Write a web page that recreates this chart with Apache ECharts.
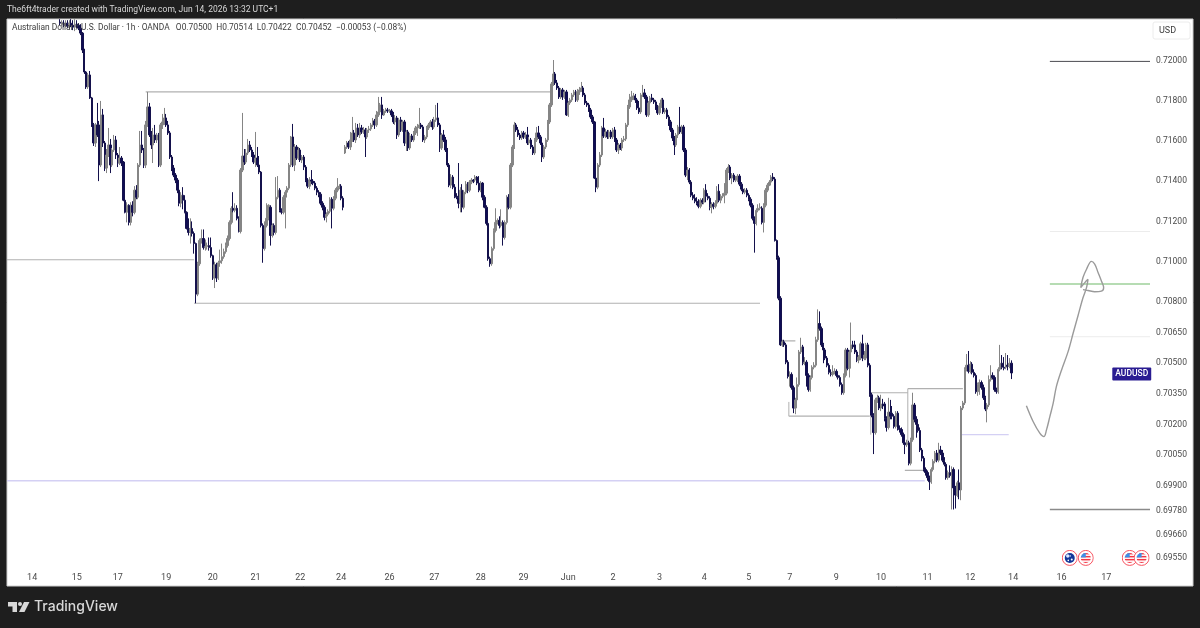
<!DOCTYPE html>
<html>
<head>
<meta charset="utf-8">
<title>AUDUSD 1h</title>
<style>html,body{margin:0;padding:0;background:#1e1e1e}#c{width:1200px;height:628px}</style>
<script src="https://cdn.jsdelivr.net/npm/echarts@6/dist/echarts.min.js"></script>
</head>
<body>
<div id="c"></div>
<script>
// Hourly AUD/USD candles, one list per session, rows are [open, close, low, high] in 0.00001 units.
const barsMay14 = [[72195,72190,72180,72210],[72185,72195,72175,72205],[72190,72180,72170,72205],[72180,72190,72170,72205],[72190,72175,72165,72205],[72175,72190,72160,72205],[72190,72180,72170,72210],[72180,72170,72155,72205],[72170,72185,72150,72210],[72185,72180,72165,72205]];
const barsMay15 = [[72180,72165,72155,72190],[72165,72140,72130,72185],[72140,72055,72040,72145],[72060,71945,71935,72060],[71945,71870,71860,71950],[71870,71930,71860,71940],[71930,71815,71810,71950],[71815,71680,71670,71820],[71680,71590,71575,71690],[71590,71680,71570,71690],[71680,71630,71620,71790],[71680,71480,71400,71700],[71480,71730,71470,71800],[71730,71590,71570,71760],[71590,71465,71450,71600],[71465,71530,71440,71560],[71530,71580,71520,71665],[71580,71480,71440,71610],[71480,71555,71470,71565],[71555,71605,71545,71630],[71605,71530,71510,71625],[71530,71490,71470,71540],[71490,71515,71480,71570]];
const barsMay18 = [[71515,71490,71475,71525],[71495,71305,71300,71500],[71305,71245,71240,71310],[71245,71280,71195,71295],[71280,71195,71180,71285],[71195,71280,71180,71295],[71280,71245,71225,71300],[71245,71355,71235,71375],[71355,71320,71310,71380],[71320,71480,71310,71490],[71480,71580,71470,71650],[71580,71555,71540,71650],[71555,71480,71465,71565],[71480,71680,71465,71700],[71680,71770,71670,71845],[71770,71630,71620,71790],[71630,71580,71560,71650],[71580,71630,71490,71665],[71630,71605,71590,71680],[71605,71630,71590,71640],[71630,71480,71470,71640],[71480,71680,71470,71690],[71680,71695,71660,71735],[71695,71715,71680,71765],[71715,71680,71670,71735],[71680,71640,71630,71700]];
const barsMay19 = [[71640,71520,71510,71650],[71520,71465,71450,71530],[71465,71430,71420,71480],[71430,71405,71390,71440],[71405,71355,71340,71415],[71355,71290,71275,71365],[71290,71330,71270,71345],[71330,71305,71260,71370],[71305,71245,71240,71330],[71245,71165,71160,71250],[71165,71145,71130,71215],[71145,71165,71090,71215],[71165,71140,71125,71200],[71140,71090,71040,71150],[71090,70840,70795,71095],[70840,70990,70830,71000],[70990,71105,70980,71115],[71105,71115,71090,71160],[71115,71070,71060,71160],[71070,71075,71055,71110],[71075,71080,71060,71095],[71080,71070,71055,71120],[71070,71030,71020,71120],[71030,70920,70910,71035]];
const barsMay20 = [[70920,70985,70870,71000],[70985,70920,70900,70995],[70920,70995,70910,71005],[70995,71005,70975,71060],[71005,71025,70990,71090],[71025,71050,71015,71065],[71050,71080,71040,71095],[71080,71115,71070,71130],[71115,71195,71105,71205],[71195,71265,71185,71275],[71265,71255,71245,71345],[71255,71265,71245,71290],[71265,71215,71205,71280],[71215,71150,71145,71225],[71150,71455,71140,71465],[71455,71525,71445,71740],[71525,71495,71480,71560],[71495,71540,71485,71560],[71540,71580,71530,71610],[71580,71555,71545,71600],[71555,71530,71520,71570],[71530,71495,71485,71545],[71495,71515,71470,71645],[71515,71480,71470,71570]];
const barsMay21 = [[71480,71445,71435,71525],[71445,71180,71170,71450],[71180,71065,70995,71190],[71065,71180,71055,71200],[71180,71215,71170,71290],[71215,71280,71205,71285],[71270,71130,71080,71280],[71130,71180,71120,71190],[71180,71145,71130,71190],[71145,71320,71135,71420],[71320,71355,71310,71425],[71355,71255,71245,71365],[71255,71245,71235,71265],[71245,71320,71235,71330],[71320,71345,71165,71355],[71345,71365,71335,71375],[71365,71480,71355,71490],[71480,71620,71470,71625],[71620,71480,71470,71685],[71480,71570,71450,71585],[71570,71515,71505,71580],[71515,71555,71505,71570],[71555,71505,71495,71565],[71505,71520,71490,71530]];
const barsMay22 = [[71520,71470,71455,71530],[71470,71405,71395,71480],[71405,71375,71365,71415],[71375,71405,71360,71420],[71405,71400,71385,71455],[71400,71390,71380,71410],[71390,71365,71355,71400],[71365,71345,71330,71375],[71345,71335,71320,71355],[71335,71290,71280,71345],[71290,71270,71255,71300],[71270,71220,71205,71280],[71220,71235,71195,71245],[71235,71250,71225,71260],[71250,71310,71240,71320],[71310,71265,71165,71320],[71265,71315,71255,71325],[71315,71355,71305,71365],[71355,71370,71345,71415],[71370,71375,71360,71385],[71375,71315,71305,71385],[71315,71270,71255,71325]];
const barsMay25 = [[71540,71570,71535,71580],[71570,71590,71560,71600],[71590,71570,71560,71600],[71570,71605,71555,71645],[71605,71640,71595,71720],[71640,71605,71595,71655],[71605,71665,71590,71690],[71665,71630,71620,71685],[71630,71665,71615,71690],[71665,71645,71635,71680],[71645,71655,71635,71670],[71655,71620,71520,71665],[71620,71655,71610,71665],[71655,71660,71640,71675],[71660,71680,71650,71690],[71680,71700,71670,71715],[71700,71680,71660,71710],[71680,71730,71670,71750],[71730,71745,71720,71820],[71745,71780,71735,71790],[71780,71730,71710,71820],[71730,71750,71725,71760],[71750,71755,71740,71765],[71755,71750,71740,71765],[71750,71752,71740,71760],[71750,71730,71720,71760]];
const barsMay26 = [[71730,71695,71685,71745],[71695,71715,71680,71730],[71715,71630,71610,71725],[71630,71705,71620,71715],[71705,71655,71645,71720],[71655,71695,71645,71705],[71695,71590,71575,71705],[71590,71645,71550,71655],[71645,71565,71550,71655],[71565,71625,71555,71640],[71625,71605,71595,71635],[71605,71640,71595,71650],[71640,71665,71630,71675],[71665,71670,71625,71685],[71670,71680,71660,71765],[71680,71670,71660,71690],[71670,71605,71595,71680],[71605,71620,71590,71630],[71620,71665,71610,71675],[71665,71680,71655,71690],[71680,71695,71670,71705],[71695,71670,71655,71710],[71670,71705,71660,71720],[71705,71715,71695,71780]];
const barsMay27 = [[71715,71680,71670,71790],[71680,71565,71545,71690],[71565,71630,71555,71640],[71630,71605,71595,71655],[71605,71555,71545,71620],[71555,71480,71470,71565],[71480,71380,71370,71490],[71380,71420,71365,71435],[71420,71370,71360,71430],[71370,71325,71315,71385],[71325,71320,71310,71340],[71320,71290,71265,71490],[71290,71355,71245,71370],[71355,71270,71245,71385],[71270,71345,71260,71355],[71345,71385,71335,71400],[71385,71355,71340,71395],[71355,71395,71345,71405],[71395,71405,71385,71415],[71405,71400,71390,71410],[71405,71420,71395,71430],[71420,71390,71380,71425],[71390,71355,71345,71425]];
const barsMay28 = [[71355,71390,71345,71400],[71390,71320,71305,71395],[71320,71270,71265,71330],[71270,71190,71180,71280],[71190,71015,71005,71195],[71015,70990,70975,71025],[70990,71065,70980,71075],[71065,71155,71055,71165],[71155,71195,71145,71265],[71195,71205,71185,71215],[71205,71180,71165,71225],[71180,71195,71170,71260],[71195,71120,71080,71205],[71120,71195,71110,71205],[71195,71320,71185,71330],[71320,71270,71260,71335],[71270,71480,71260,71490],[71480,71570,71470,71580],[71570,71680,71560,71695],[71680,71655,71645,71690],[71655,71630,71620,71670],[71630,71615,71605,71640],[71615,71640,71605,71650],[71640,71620,71610,71650]];
const barsMay29 = [[71620,71630,71610,71645],[71630,71590,71580,71670],[71590,71605,71580,71620],[71605,71570,71560,71615],[71570,71540,71530,71580],[71540,71605,71530,71615],[71605,71640,71595,71670],[71640,71620,71610,71675],[71620,71590,71580,71630],[71590,71520,71495,71600],[71520,71570,71510,71580],[71570,71605,71560,71615],[71605,71695,71595,71705],[71695,71780,71685,71790],[71780,71885,71770,71895],[71885,71935,71875,72005],[71935,71890,71880,71945],[71890,71865,71855,71905],[71865,71820,71810,71875],[71820,71855,71810,71865],[71855,71820,71805,71865],[71820,71845,71810,71855],[71845,71730,71725,71855],[71730,71790,71720,71800]];
const barsJun1 = [[71790,71805,71780,71815],[71805,71830,71795,71840],[71830,71845,71820,71855],[71845,71805,71795,71855],[71805,71845,71795,71860],[71845,71855,71830,71870],[71855,71865,71845,71895],[71865,71830,71820,71875],[71830,71790,71780,71840],[71790,71780,71770,71800],[71780,71755,71745,71790],[71755,71720,71710,71765],[71720,71695,71685,71730],[71695,71415,71410,71700],[71415,71370,71345,71425],[71370,71480,71360,71490],[71480,71530,71470,71545],[71530,71665,71520,71675],[71665,71625,71615,71715],[71625,71645,71615,71660],[71645,71620,71610,71655],[71620,71645,71610,71655],[71645,71620,71610,71655],[71620,71655,71610,71665]];
const barsJun2 = [[71655,71605,71595,71670],[71605,71555,71545,71615],[71555,71580,71535,71590],[71580,71565,71555,71590],[71565,71605,71550,71615],[71605,71610,71595,71625],[71610,71680,71600,71690],[71680,71770,71670,71780],[71770,71805,71760,71835],[71805,71820,71795,71850],[71820,71825,71805,71840],[71825,71805,71790,71835],[71805,71765,71755,71815],[71765,71745,71735,71800],[71745,71830,71735,71840],[71830,71840,71820,71880],[71840,71820,71810,71860],[71820,71730,71720,71830],[71730,71790,71720,71800],[71790,71815,71780,71825],[71815,71805,71795,71835],[71805,71795,71785,71815],[71795,71770,71755,71805],[71770,71740,71730,71780],[71740,71775,71730,71790]];
const barsJun3 = [[71775,71805,71765,71815],[71805,71745,71735,71815],[71745,71755,71735,71765],[71755,71720,71710,71765],[71720,71695,71675,71730],[71695,71655,71645,71705],[71655,71615,71600,71665],[71615,71580,71530,71625],[71580,71630,71570,71640],[71630,71670,71615,71680],[71670,71645,71635,71770],[71645,71670,71635,71680],[71670,71555,71545,71680],[71555,71430,71420,71565],[71430,71455,71405,71470],[71455,71395,71385,71465],[71395,71330,71320,71405],[71330,71315,71305,71345],[71315,71300,71290,71335],[71300,71290,71280,71320],[71290,71275,71265,71310],[71275,71305,71265,71315],[71305,71295,71285,71315],[71295,71355,71285,71365],[71355,71325,71295,71385],[71325,71315,71305,71340]];
const barsJun4 = [[71315,71270,71255,71325],[71270,71285,71240,71295],[71285,71275,71260,71295],[71275,71290,71265,71305],[71290,71350,71280,71375],[71350,71305,71295,71385],[71305,71325,71290,71335],[71325,71330,71315,71340],[71330,71340,71290,71390],[71340,71455,71330,71465],[71455,71470,71440,71485],[71470,71415,71405,71480],[71415,71430,71385,71440],[71430,71405,71395,71440],[71405,71410,71395,71425],[71405,71425,71395,71435],[71425,71385,71375,71435],[71385,71360,71350,71395],[71360,71345,71335,71370],[71345,71355,71335,71365],[71355,71330,71320,71365],[71330,71310,71300,71340],[71310,71280,71270,71320]];
const barsJun5 = [[71280,71215,71205,71290],[71215,71190,71045,71225],[71190,71255,71180,71265],[71255,71265,71245,71285],[71265,71270,71255,71290],[71265,71195,71185,71275],[71195,71280,71145,71290],[71280,71355,71270,71365],[71355,71380,71345,71390],[71380,71395,71375,71405],[71395,71420,71385,71430],[71420,71410,71400,71440],[71410,71105,71100,71420],[71105,71020,71010,71110],[71020,70820,70810,71030],[70820,70590,70585,70830],[70590,70605,70580,70615],[70605,70590,70580,70615],[70590,70505,70495,70600],[70505,70435,70425,70515],[70435,70445,70385,70460],[70445,70380,70370,70455]];
const barsJun8 = [[70380,70280,70255,70390],[70280,70320,70250,70330],[70320,70395,70310,70430],[70395,70555,70385,70565],[70555,70580,70545,70625],[70580,70500,70490,70590],[70500,70505,70490,70530],[70505,70440,70385,70515],[70440,70370,70360,70450],[70370,70430,70360,70440],[70430,70480,70420,70490],[70480,70490,70470,70505],[70490,70615,70480,70630],[70615,70695,70605,70765],[70695,70670,70660,70755],[70670,70590,70580,70680],[70590,70565,70500,70600],[70565,70525,70515,70575],[70525,70490,70480,70535],[70490,70455,70445,70500],[70455,70445,70435,70470],[70445,70455,70435,70490],[70455,70460,70445,70475],[70460,70440,70430,70470],[70440,70430,70420,70450],[70430,70395,70385,70440]];
const barsJun9 = [[70395,70355,70345,70405],[70355,70440,70345,70450],[70440,70565,70430,70575],[70565,70475,70465,70575],[70475,70555,70430,70565],[70555,70590,70545,70700],[70590,70580,70570,70610],[70590,70555,70545,70610],[70555,70515,70505,70565],[70515,70530,70500,70540],[70530,70595,70515,70605],[70595,70525,70510,70640],[70525,70540,70515,70560],[70525,70590,70515,70600],[70590,70490,70480,70600],[70490,70345,70335,70500],[70345,70245,70235,70355],[70245,70160,70055,70255],[70160,70320,70150,70330],[70320,70330,70305,70345],[70330,70280,70270,70340],[70280,70300,70265,70345],[70300,70290,70275,70325],[70300,70230,70215,70310],[70230,70185,70165,70240],[70185,70260,70175,70330],[70260,70240,70225,70320]];
const barsJun10 = [[70255,70240,70225,70290],[70240,70190,70180,70250],[70190,70255,70180,70265],[70255,70180,70170,70265],[70180,70175,70160,70195],[70175,70150,70140,70185],[70150,70110,70100,70160],[70110,70100,70055,70120],[70100,70110,70090,70125],[70110,70010,70000,70120],[70010,70125,70000,70135],[70125,70295,70115,70355],[70295,70225,70210,70305],[70225,70200,70135,70240],[70200,70170,70160,70215],[70170,70075,70065,70185],[70075,70035,70020,70085],[70035,69980,69970,70045],[69980,69965,69950,69990],[69965,69940,69925,69975],[69940,69920,69880,69950]];
const barsJun11 = [[69920,69980,69910,69990],[69980,70020,69970,70030],[70020,70060,70010,70070],[70060,70025,70015,70075],[70025,70075,70015,70110],[70075,70060,70050,70095],[70060,70025,70015,70075],[70025,70005,69995,70040],[70005,69940,69930,70015],[69940,69965,69930,69975],[69965,69950,69940,70000],[69950,69980,69785,69995],[69980,69890,69785,69990],[69890,69855,69790,69900],[69855,69915,69845,69925],[69915,69880,69835,69980],[69880,70280,69830,70290],[70280,70305,70270,70315],[70305,70470,70295,70480],[70470,70490,70460,70545],[70490,70460,70450,70560],[70460,70495,70450,70510]];
const barsJun12 = [[70495,70455,70445,70505],[70455,70440,70430,70470],[70440,70360,70350,70450],[70360,70395,70340,70405],[70395,70405,70345,70420],[70405,70380,70370,70415],[70380,70330,70320,70395],[70330,70275,70265,70340],[70275,70295,70210,70305],[70295,70420,70285,70440],[70420,70440,70410,70490],[70440,70430,70420,70455],[70430,70370,70360,70440],[70370,70360,70350,70380],[70360,70470,70350,70480],[70470,70500,70460,70590],[70500,70480,70470,70540],[70480,70475,70465,70530],[70480,70490,70470,70550],[70490,70485,70465,70540],[70485,70500,70475,70525],[70500,70452,70422,70514]];
const sessions = [barsMay14, barsMay15, barsMay18, barsMay19, barsMay20, barsMay21, barsMay22, barsMay25, barsMay26, barsMay27, barsMay28, barsMay29, barsJun1, barsJun2, barsJun3, barsJun4, barsJun5, barsJun8, barsJun9, barsJun10, barsJun11, barsJun12];

// Time scale: hour slots on screen and the day labels placed on them.
const hourSlots = 614;
const firstBarHour = 28;
const dayLabels = ['14','15','17','19','20','21','22','24','26','27','28','29','Jun','2','3','4','5','7','9','10','11','12','14','16','17'];
const dayLabelHours = [13,37,59,85,110,133,157,179,205,229,254,277,301,325,350,374,398,420,445,469,494,517,540,566,590];

// Price scale ticks.
const priceTicks = [0.72,0.718,0.716,0.714,0.712,0.71,0.708,0.7065,0.705,0.7035,0.702,0.7005,0.699,0.6978,0.6966,0.6955];
const priceMin = 0.69506, priceMax = 0.72211;

// Levels drawn on the chart, [fromHour, toHour, price in 0.00001 units].
const greyLevels = [[74,292,71845],[-0.5,100,71010],[100,404,70795],[415,423,70610],[419.5,463,70240],[463.5,483.4,70355],[483.4,513,70375],[481.8,492.5,69975]];
const lavenderLevels = [[-0.5,492.5,69925],[511.8,537.6,70150]];
const targetDark = [[559.7,613.5,71998]];
const targetFaint = [[559.7,613.5,71150],[559.7,613.5,70630]];
const targetGreen = [[559.7,613.5,70890]];
const targetGrey = [[559.7,613.5,69785]];
// Short vertical box edges, [hour, fromPrice, toPrice].
const boxEdges = [[419.5,70240,70310],[463.5,70355,70150],[483.4,70375,70100]];

// Freehand projected path, [hour, price in 0.00001 units].
const projection = [[547.1,70291],[550.7,70214],[554.3,70157],[556.5,70140],[557.9,70173],[559.7,70238],[561.5,70304],[563.2,70385],[566,70467],[569.5,70557],[572.2,70647],[574.9,70736],[577.5,70822],[579.4,70872],[580.2,70913],[578.5,70897],[576.3,70872],[577.5,70922],[579.4,70963],[582,71002],[583.8,70988],[585.6,70947],[587.4,70905],[588.6,70872],[587.4,70855],[583.8,70852],[580.2,70858],[577.5,70862]];

// Upcoming economic events along the bottom, [hour, flag].
const eventHours = [[570.4,'au'],[579,'us'],[602.6,'us'],[609,'us']];
const eventPrice = 0.6955;

const instrumentTagHour = 603.7;
const headerText = 'The6ft4trader created with TradingView.com, Jun 14, 2026 13:32 UTC+1';
const legendText = 'Australian Dollar / U.S. Dollar · 1h · OANDA   O0.70500  H0.70514  L0.70422  C0.70452  −0.00053 (−0.08%)';

const PRICE_UNIT = 1e5;
const FONT = 'Roboto, "Open Sans", sans-serif';

const candleData = Array(firstBarHour).fill('-').concat(
  sessions.flat().map(r => r.map(v => v / PRICE_UNIT))
);
const lastClose = sessions.at(-1).at(-1)[1] / PRICE_UNIT;

function flagIcon(kind) {
  const inner = kind === 'us'
    ? '<clipPath id="k"><circle cx="16" cy="16" r="10"/></clipPath><g clip-path="url(#k)"><rect width="32" height="32" fill="#fff"/><rect y="6" width="32" height="3" fill="#f23645"/><rect y="12" width="32" height="3" fill="#f23645"/><rect y="18" width="32" height="3" fill="#f23645"/><rect y="24" width="32" height="3" fill="#f23645"/><rect width="16" height="15" fill="#3d8fe8"/></g>'
    : '<circle cx="16" cy="16" r="10" fill="#14379a"/><circle cx="12" cy="12" r="3.5" fill="#dfe7ff"/><circle cx="20" cy="19" r="2" fill="#fff"/><circle cx="17" cy="12" r="1.3" fill="#fff"/><circle cx="13" cy="21" r="1.6" fill="#fff"/>';
  const svg = '<svg xmlns="http://www.w3.org/2000/svg" width="32" height="32" viewBox="0 0 32 32"><circle cx="16" cy="16" r="15" fill="#fff" stroke="#f7525f" stroke-width="2"/>' + inner + '</svg>';
  return 'image://data:image/svg+xml;charset=utf-8,' + encodeURIComponent(svg);
}

function levelSeries(rows, color, width) {
  return rows.map(([a, b, p]) => ({
    type: 'line', xAxisIndex: 1, yAxisIndex: 0, silent: true, symbol: 'none', z: 1,
    lineStyle: { color, width },
    data: [[a, p / PRICE_UNIT], [b, p / PRICE_UNIT]]
  }));
}

const series = [
  ...levelSeries(greyLevels, '#b0b0b0', 1.2),
  ...levelSeries(lavenderLevels, '#d4d0f4', 1.4),
  ...levelSeries(targetDark, '#4a4a50', 1),
  ...levelSeries(targetFaint, '#ececec', 1),
  ...levelSeries(targetGreen, '#9ed09a', 1.3),
  ...levelSeries(targetGrey, '#8a8a8a', 1.5),
  ...boxEdges.map(([h, a, b]) => ({
    type: 'line', xAxisIndex: 1, yAxisIndex: 0, silent: true, symbol: 'none', z: 1,
    lineStyle: { color: '#b0b0b0', width: 1 },
    data: [[h, a / PRICE_UNIT], [h, b / PRICE_UNIT]]
  })),
  {
    type: 'candlestick', xAxisIndex: 0, yAxisIndex: 0, z: 3, barWidth: 1.9, clip: true,
    itemStyle: { color: '#858585', color0: '#0f0c55', borderColor: '#858585', borderColor0: '#14114c', borderWidth: 1 },
    data: candleData
  },
  {
    type: 'line', xAxisIndex: 1, yAxisIndex: 0, silent: true, symbol: 'none', smooth: 0.35, z: 4,
    lineStyle: { color: '#9a9a9a', width: 1.4 },
    data: projection.map(([h, p]) => [h, p / PRICE_UNIT])
  },
  {
    type: 'scatter', xAxisIndex: 1, yAxisIndex: 0, silent: true, symbolSize: 16, z: 5,
    itemStyle: { opacity: 1 },
    data: eventHours.map(([h, kind]) => ({ value: [h, eventPrice], symbol: flagIcon(kind) }))
  },
  {
    type: 'scatter', xAxisIndex: 1, yAxisIndex: 0, silent: true, symbolSize: 0, z: 5,
    itemStyle: { opacity: 1 },
    data: [[instrumentTagHour, lastClose]],
    label: {
      show: true, position: 'inside', offset: [0, 1], formatter: 'AUDUSD', color: '#fff', opacity: 1,
      fontFamily: FONT, fontSize: 8.5, fontWeight: 500, backgroundColor: '#2a1c92',
      padding: [2, 3, 2, 3], borderRadius: 1
    }
  }
];

const chart = echarts.init(document.getElementById('c'), null, { renderer: 'canvas' });
chart.setOption({
  animation: false,
  backgroundColor: '#1e1e1e',
  grid: { left: 7, top: 19, width: 1143, height: 548, containLabel: false },
  xAxis: [
    {
      type: 'category', data: Array.from({ length: hourSlots }, (_, i) => String(i)), boundaryGap: true,
      axisLine: { show: false }, axisTick: { show: false }, splitLine: { show: false },
      axisLabel: {
        color: '#4a4a4a', fontFamily: FONT, fontSize: 9, margin: 6, hideOverlap: false,
        interval: i => dayLabelHours.includes(i),
        formatter: (v, i) => dayLabels[dayLabelHours.indexOf(i)] ?? ''
      }
    },
    { type: 'value', show: false, min: -0.5, max: hourSlots - 0.5 }
  ],
  yAxis: [{
    type: 'log', logBase: 10, position: 'right', min: priceMin, max: priceMax,
    axisLine: { show: false }, axisTick: { show: false }, splitLine: { show: false },
    axisLabel: {
      color: '#4a4a4a', fontFamily: FONT, fontSize: 8.5, margin: 6, padding: [2, 0, 0, 0],
      customValues: priceTicks,
      formatter: v => Number(v).toFixed(5)
    }
  }],
  series,
  graphic: [
    { type: 'rect', z: -10, silent: true, shape: { x: 7, y: 19, width: 1186, height: 567 }, style: { fill: '#fff', stroke: '#cfcfcf', lineWidth: 1 } },
    { type: 'text', z: 10, silent: true, x: 7, y: 5, style: { text: headerText, fill: '#d8d8d8', font: '8.5px ' + FONT } },
    { type: 'text', z: 10, silent: true, x: 12, y: 24, style: { text: legendText, fill: '#3c3c3c', font: '8.4px ' + FONT } },
    { type: 'rect', z: 10, silent: true, shape: { x: 1153, y: 22, width: 37, height: 17, r: 2 }, style: { fill: '#fff', stroke: '#ececec', lineWidth: 1 } },
    { type: 'text', z: 11, silent: true, x: 1159, y: 26, style: { text: 'USD', fill: '#3c3c3c', font: '9px ' + FONT } },
    { type: 'polygon', z: 10, silent: true, shape: { points: [[8,602],[17,602],[17,612],[12.5,612],[12.5,606.5],[8,606.5]] }, style: { fill: '#d8d8d8' } },
    { type: 'polygon', z: 10, silent: true, shape: { points: [[24,602],[29.5,602],[24.5,612],[19,612]] }, style: { fill: '#d8d8d8' } },
    { type: 'circle', z: 10, silent: true, shape: { cx: 20, cy: 604, r: 2 }, style: { fill: '#d8d8d8' } },
    { type: 'text', z: 10, silent: true, x: 34, y: 600, style: { text: 'TradingView', fill: '#d8d8d8', font: '500 14px Inter, ' + FONT } }
  ]
});
</script>
</body>
</html>
